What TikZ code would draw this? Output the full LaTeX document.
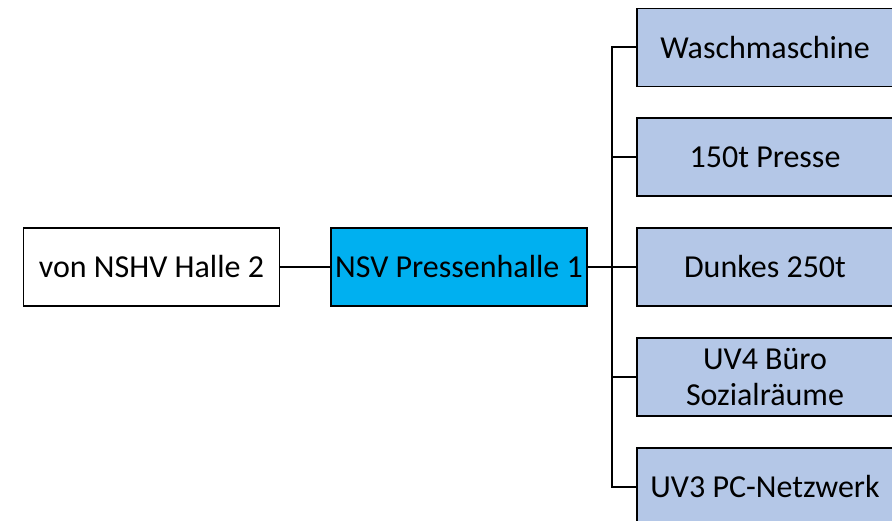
\documentclass[tikz,border=0pt]{standalone}
\usepackage{fontspec}
\setmainfont{Carlito}
\definecolor{nsvblue}{HTML}{00B0F0}
\definecolor{feedblue}{HTML}{B4C7E7}
\begin{document}
\begin{tikzpicture}[x=1pt,y=-1pt,
  box/.style={draw=black, line width=1.8pt, minimum width=256pt, minimum height=78pt,
    inner sep=0pt, align=center, font=\fontsize{32}{36}\selectfont},
  srcbox/.style={box, fill=white},
  nsvbox/.style={box, fill=nsvblue},
  feedbox/.style={box, fill=feedblue},
  wire/.style={draw=black, line width=2pt}]
\useasboundingbox (0,0) rectangle (892,521);
\clip (0,0) rectangle (892,521);

\node[srcbox] (src) at (151.5,267) {von NSHV Halle 2};
\node[nsvbox] (nsv) at (459,267) {NSV Pressenhalle 1};

\node[feedbox] (f1) at (765,47.5) {Waschmaschine};
\node[feedbox] (f2) at (765,157) {150t Presse};
\node[feedbox] (f3) at (765,267) {Dunkes 250t};
\node[feedbox] (f4) at (765,377) {UV4 Büro\\Sozialräume};
\node[feedbox] (f5) at (765,487) {UV3 PC-Netzwerk};

\coordinate (bus) at (612,267);

\draw[wire] (src.east) -- (nsv.west);
\draw[wire] (nsv.east) -- (bus);
\foreach \f in {f1,f2,f3,f4,f5}
  \draw[wire] (bus) |- (\f.west);
\end{tikzpicture}
\end{document}
